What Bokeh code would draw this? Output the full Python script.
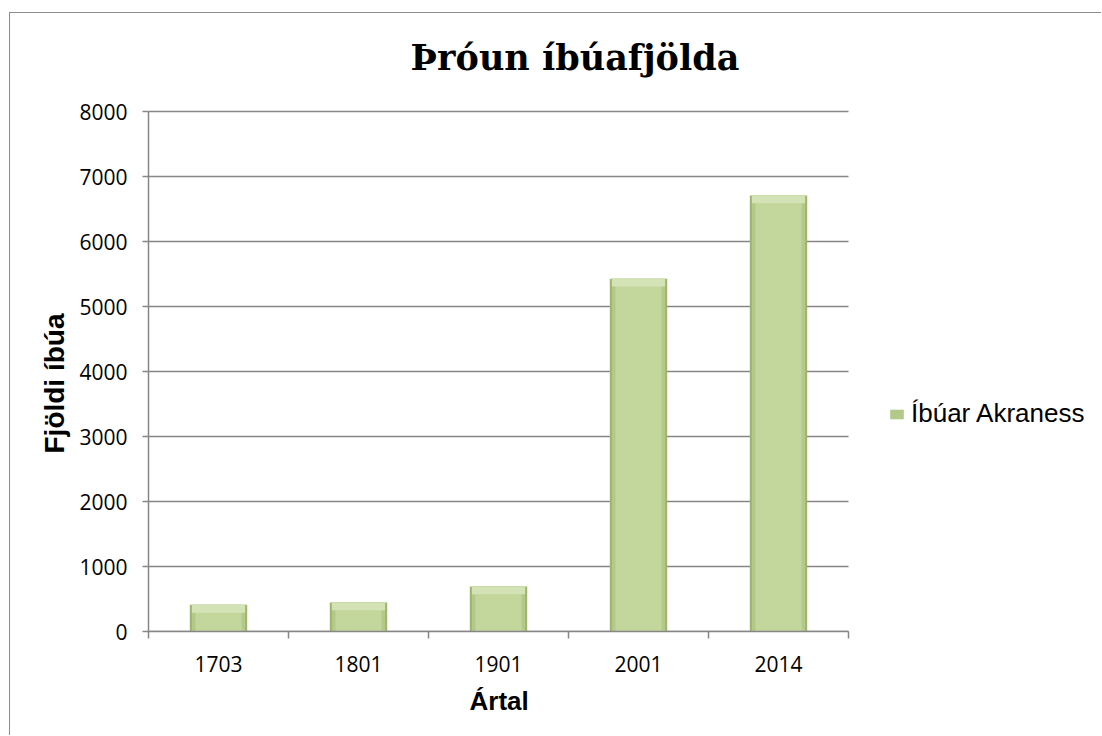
from bokeh.plotting import figure
from bokeh.models import (Range1d, LinearAxis, FixedTicker, Label, Title,
                          Legend, LegendItem, ColumnDataSource)
from bokeh.embed import file_html
from bokeh.resources import INLINE

# ---- data ----
years = ["1703", "1801", "1901", "2001", "2014"]
population = [410, 446, 692, 5426, 6708]
y_ticks = [0, 1000, 2000, 3000, 4000, 5000, 6000, 7000, 8000]
series_name = "Íbúar Akraness"
title_text = "Þróun íbúafjölda"
x_label = "Ártal"
y_label = "Fjöldi íbúa"

GRAY = "#868686"
BEVEL = 120  # data units of top highlight band

# ---- layout (pixels) ----
W, H = 1092, 723
LEFT = 138
FRAME_PX = 618                # frame height: canvas top down to the x axis
BOTTOM = H - FRAME_PX
PX_PER_CAT = 140.0            # width of one category slot
AXIS_PX = 520.0               # pixel height of the 0..Y_MAX axis
Y_MAX = y_ticks[-1]
N = len(years)
X_MAX = (W - LEFT) / PX_PER_CAT           # frame runs to the right edge (legend lives there)
Y_TOP = Y_MAX * FRAME_PX / AXIS_PX        # frame runs to the top edge (title lives there)

pos = [i + 0.5 for i in range(N)]
edges = list(range(N + 1))

src = ColumnDataSource(dict(
    x=pos,
    pop=population,
    band=[v - BEVEL for v in population],
))
grid_src = ColumnDataSource(dict(x0=[0] * len(y_ticks), x1=[N] * len(y_ticks), y=y_ticks))

p = figure(width=W, height=H,
           x_range=Range1d(0, X_MAX), y_range=Range1d(0, Y_TOP),
           x_axis_location=None, y_axis_location=None,
           output_backend="svg", toolbar_location=None,
           min_border_left=LEFT, min_border_right=0,
           min_border_top=0, min_border_bottom=BOTTOM,
           outline_line_color=None, background_fill_color="white",
           border_fill_color="white")
p.styles = {"margin-left": "9px", "margin-top": "12px",
            "border-left": "1px solid #8c8c8c", "border-top": "1px solid #8c8c8c"}
for g in p.grid:
    g.visible = False

# chart title
p.add_layout(Label(x=426.5 / PX_PER_CAT, y=574 * Y_MAX / AXIS_PX,
                   text=title_text, text_align="center", text_baseline="alphabetic",
                   text_font="DejaVu Serif", text_font_style="bold",
                   text_font_size="35px", text_color="black"))

# y axis
yaxis = LinearAxis(ticker=FixedTicker(ticks=y_ticks), bounds=(0, Y_MAX),
                   major_tick_out=6, major_tick_in=0,
                   minor_tick_line_color=None,
                   axis_line_color=GRAY, axis_line_width=1.5,
                   major_tick_line_color=GRAY, major_tick_line_width=1.5,
                   major_label_text_font="Open Sans", major_label_text_font_size="21px",
                   major_label_text_color="black", major_label_standoff=15)
p.add_layout(yaxis, "left")
p.add_layout(Title(text=y_label, align="left", offset=178, standoff=14,
                   text_font="Liberation Sans", text_font_style="bold",
                   text_font_size="28px", text_color="black"), "left")

# x axis: labels at slot centres, tick marks at slot edges
xaxis = LinearAxis(ticker=FixedTicker(ticks=pos, minor_ticks=edges), bounds=(0, N),
                   major_label_overrides={x: y for x, y in zip(pos, years)},
                   major_tick_line_color=None, major_tick_out=0, major_tick_in=0,
                   minor_tick_out=7, minor_tick_in=0,
                   minor_tick_line_color=GRAY, minor_tick_line_width=1.5,
                   axis_line_color=GRAY, axis_line_width=1.5,
                   major_label_text_font="Open Sans", major_label_text_font_size="21px",
                   major_label_text_color="black", major_label_standoff=17)
p.add_layout(xaxis, "below")
p.add_layout(Title(text=x_label, align="left", offset=321, standoff=23,
                   vertical_align="top",
                   text_font="Liberation Sans", text_font_style="bold",
                   text_font_size="26px", text_color="black"), "below")

# gridlines (from the tick list, across the category span only)
p.segment(x0="x0", x1="x1", y0="y", y1="y", source=grid_src,
          line_color=GRAY, line_width=1.5)

# bars (bevelled look)
outer = p.vbar(x="x", top="pop", bottom=0, width=0.41, source=src,
               fill_color="#9fb56c", line_color=None)
mid = p.vbar(x="x", top="pop", bottom=0, width=0.38, source=src,
             fill_color="#b3c98a", line_color=None)
inner = p.vbar(x="x", top="pop", bottom=0, width=0.33, source=src,
               fill_color="#c3d69b", line_color=None)
band = p.vbar(x="x", top="pop", bottom="band", width=0.38, source=src,
              fill_color="#d4e3b6", line_color=None)

legend = Legend(items=[LegendItem(label=series_name, renderers=[mid])],
                location=(740, 202), border_line_color=None,
                background_fill_alpha=0, padding=0, margin=0,
                glyph_width=17, glyph_height=12,
                label_text_font="Liberation Sans", label_text_font_size="26px",
                label_text_color="black", label_standoff=6, label_height=26)
p.add_layout(legend)

open("out.html", "w").write(file_html(p, INLINE))
